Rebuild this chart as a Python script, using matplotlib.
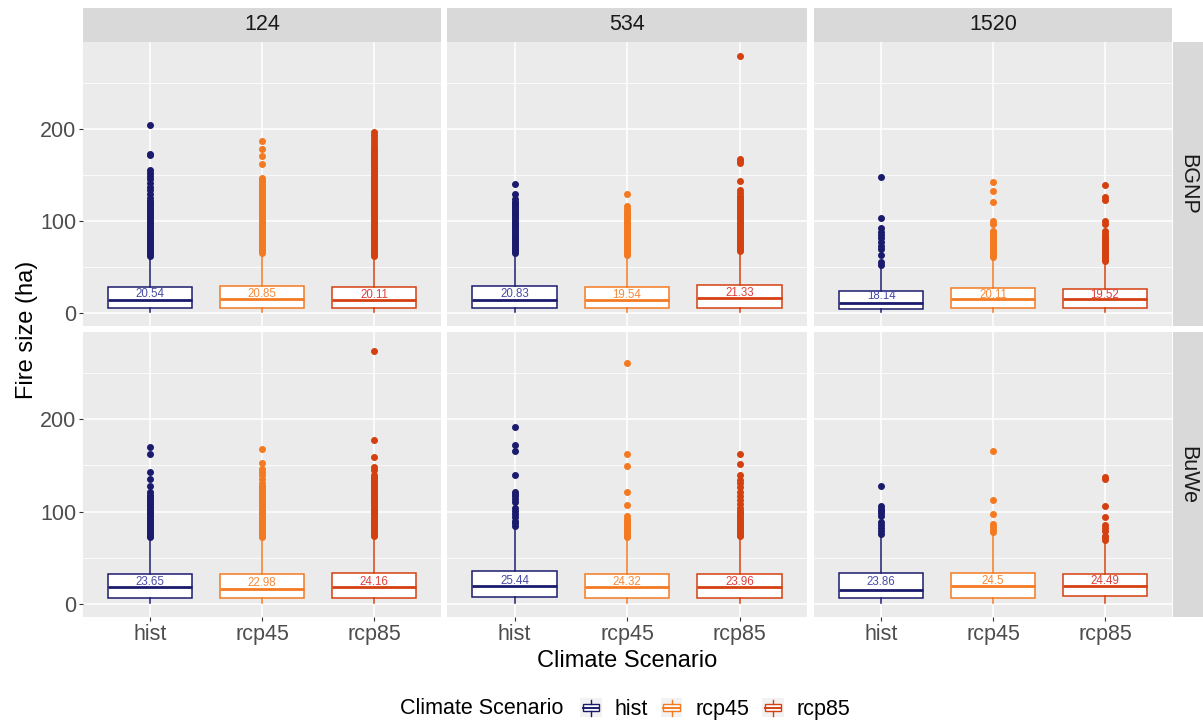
import matplotlib
matplotlib.use('Agg')
import matplotlib.pyplot as plt
from matplotlib.patches import Rectangle
from matplotlib.lines import Line2D
from matplotlib.legend_handler import HandlerBase

plt.rcParams['font.family'] = ['Liberation Sans', 'DejaVu Sans']

sites = ['BGNP', 'BuWe']
sizes = ['124', '534', '1520']
scenarios = ['hist', 'rcp45', 'rcp85']
colors = ['#1B1B6E', '#F47A22', '#D44010']
label_colors = ['#4A4AA8', '#F58A3A', '#E0403A']

# box stats per [site][size][scenario]
q1 = [[[5, 5, 5], [5, 5, 5], [4, 5, 5]],
      [[6.5, 6.5, 6.5], [8, 7, 7], [6.5, 6.5, 9]]]
med = [[[14, 15, 14], [14, 14, 16], [11, 15, 15]],
       [[18, 16.5, 18], [19, 18, 18], [15.5, 19, 19]]]
q3 = [[[28, 29, 28], [29, 28, 31], [23.5, 27, 26]],
      [[33, 33, 34], [36, 33, 33], [34, 34, 33]]]
whislo = [[[1, 1, 1], [1, 1, 1], [1, 1, 1]],
          [[1, 1, 1], [1, 1, 1], [1, 1, 1]]]
whishi = [[[60, 63, 60], [63, 61, 65], [50, 59, 55]],
          [[70, 70, 71], [82, 70, 71], [75, 77, 67]]]
means = [[[20.54, 20.85, 20.11], [20.83, 19.54, 21.33], [18.14, 20.11, 19.52]],
         [[23.65, 22.98, 24.16], [25.44, 24.32, 23.96], [23.86, 24.5, 24.49]]]

outliers = [
    [  # BGNP
        [[62, 64, 66, 68, 70, 72, 74, 76, 78, 80, 82, 84, 86, 88, 90, 92, 94, 96, 98, 100, 102, 104, 106,
          108, 110, 112, 114, 116, 118, 120, 122, 125, 129, 133, 137, 141, 145, 149, 152, 155, 171, 173, 204],
         [65, 67, 69, 71, 73, 75, 77, 79, 81, 83, 85, 87, 89, 91, 93, 95, 97, 99, 101, 103, 105, 107, 109,
          111, 113, 115, 117, 119, 121, 123, 125, 127, 129, 131, 133, 135, 137, 139, 141, 143, 145, 147,
          162, 170, 178, 187],
         [62, 64, 66, 68, 70, 72, 74, 76, 78, 80, 82, 84, 86, 88, 90, 92, 94, 96, 98, 100, 102, 104, 106,
          108, 110, 112, 114, 116, 118, 120, 122, 124, 126, 128, 130, 132, 134, 136, 138, 140, 142, 144,
          146, 148, 150, 152, 154, 156, 158, 160, 162, 164, 166, 168, 170, 172, 174, 176, 178, 180, 183,
          187, 190, 193, 196]],
        [[65, 67, 69, 71, 73, 75, 77, 79, 81, 83, 85, 87, 89, 91, 93, 95, 97, 99, 101, 103, 105, 107, 109,
          111, 113, 115, 117, 119, 121, 124, 129, 140],
         [63, 65, 67, 69, 71, 73, 75, 77, 79, 81, 83, 85, 87, 89, 91, 93, 95, 97, 99, 101, 103, 105, 107,
          109, 111, 113, 116, 129],
         [67, 69, 71, 73, 75, 77, 79, 81, 83, 85, 87, 89, 91, 93, 95, 97, 99, 101, 103, 105, 107, 109, 111,
          113, 115, 117, 119, 121, 123, 125, 127, 130, 134, 143, 163, 165, 167, 279]],
        [[52, 55, 63, 70, 73, 77, 81, 85, 88, 92, 103, 148],
         [61, 63, 65, 67, 69, 71, 73, 75, 77, 79, 81, 83, 85, 87, 89, 97, 100, 120, 132, 142],
         [57, 59, 61, 63, 65, 67, 69, 71, 73, 75, 77, 79, 81, 83, 86, 89, 97, 100, 123, 126, 139]],
    ],
    [  # BuWe
        [[72, 74, 76, 78, 80, 82, 84, 86, 88, 90, 92, 94, 96, 98, 100, 102, 104, 106, 108, 110, 112, 114,
          116, 118, 121, 128, 135, 143, 162, 170],
         [72, 74, 76, 78, 80, 82, 84, 86, 88, 90, 92, 94, 96, 98, 100, 102, 104, 106, 108, 110, 112, 114,
          116, 118, 120, 122, 124, 126, 128, 131, 135, 139, 143, 146, 152, 168],
         [73, 75, 77, 79, 81, 83, 85, 87, 89, 91, 93, 95, 97, 99, 101, 103, 105, 107, 109, 111, 113, 115,
          117, 119, 121, 123, 125, 127, 129, 131, 133, 135, 137, 139, 145, 148, 159, 177, 273]],
        [[84, 88, 90, 94, 97, 101, 104, 110, 114, 117, 119, 121, 140, 165, 172, 191],
         [72, 74, 76, 78, 80, 82, 84, 86, 88, 90, 92, 95, 107, 121, 149, 162, 260],
         [73, 75, 77, 79, 81, 83, 85, 87, 89, 91, 93, 95, 97, 99, 101, 104, 108, 112, 117, 121, 126, 131,
          134, 140, 151, 162]],
        [[76, 79, 82, 85, 89, 95, 98, 101, 103, 106, 128],
         [78, 80, 83, 86, 97, 112, 165],
         [69, 72, 74, 79, 82, 85, 94, 106, 135, 137]],
    ],
]

W, H = 1203, 724
fig = plt.figure(figsize=(W / 100, H / 100), dpi=100)

col_x = [(83, 441), (447, 807), (814, 1172)]
row_y = [(42, 326), (332, 617)]


def fx(px):
    return px / W


def fy(py):
    return 1 - py / H


for r in range(2):
    for c in range(3):
        x0, x1 = col_x[c]
        y0, y1 = row_y[r]
        ax = fig.add_axes([fx(x0), fy(y1), fx(x1 - x0), (y1 - y0) / H])
        ax.set_facecolor('#EBEBEB')
        for sp in ax.spines.values():
            sp.set_visible(False)
        ax.set_axisbelow(True)

        for k in range(3):
            st = dict(med=med[r][c][k], q1=q1[r][c][k], q3=q3[r][c][k],
                      whislo=whislo[r][c][k], whishi=whishi[r][c][k],
                      fliers=outliers[r][c][k])
            col = colors[k]
            ax.bxp([st], positions=[k + 1], widths=0.75, patch_artist=True, showcaps=False,
                   boxprops=dict(facecolor='white', edgecolor=col, linewidth=1.1),
                   medianprops=dict(color=col, linewidth=2.0),
                   whiskerprops=dict(color=col, linewidth=1.1),
                   flierprops=dict(marker='o', markerfacecolor=col, markeredgecolor=col,
                                   markersize=4.0, linestyle='none'))
            ax.text(k + 1, means[r][c][k], str(means[r][c][k]), color=label_colors[k],
                    fontsize=8.3, ha='center', va='center')

        ax.set_xlim(0.4, 3.6)
        ax.set_ylim(-14, 294)
        ax.set_xticks([1, 2, 3])
        ax.set_yticks([0, 100, 200])
        ax.set_yticks([50, 150, 250], minor=True)
        ax.grid(True, which='major', color='white', linewidth=1.1)
        ax.grid(True, which='minor', axis='y', color='white', linewidth=0.55)
        ax.tick_params(which='minor', length=0)
        ax.tick_params(which='major', length=3, color='#333333', labelcolor='#4D4D4D',
                       labelsize=15.5, pad=2)

        if c == 0:
            ax.set_yticklabels(['0', '100', '200'])
        else:
            ax.tick_params(axis='y', length=0, labelleft=False)
        if r == 1:
            ax.set_xticklabels(scenarios)
        else:
            ax.tick_params(axis='x', length=0, labelbottom=False)

        # top strips
        if r == 0:
            sax = fig.add_axes([fx(x0), fy(42), fx(x1 - x0), 34 / H])
            sax.set_facecolor('#D9D9D9')
            sax.set_xticks([])
            sax.set_yticks([])
            for sp in sax.spines.values():
                sp.set_visible(False)
            sax.text(0.5, 0.5, sizes[c], ha='center', va='center', fontsize=15.5, color='#1A1A1A')
        # right strips
        if c == 2:
            sax = fig.add_axes([fx(1173), fy(y1), fx(30), (y1 - y0) / H])
            sax.set_facecolor('#D9D9D9')
            sax.set_xticks([])
            sax.set_yticks([])
            for sp in sax.spines.values():
                sp.set_visible(False)
            sax.text(0.5, 0.5, sites[r], ha='center', va='center', fontsize=15.5,
                     color='#1A1A1A', rotation=-90)

fig.text(fx(627), fy(661), 'Climate Scenario', ha='center', va='center', fontsize=17)
fig.text(fx(27), fy(330), 'Fire size (ha)', ha='center', va='center', fontsize=17, rotation=90)


class BoxKey(HandlerBase):
    def create_artists(self, legend, orig_handle, xdescent, ydescent, width, height, fontsize, trans):
        col = orig_handle.get_color()
        x0, y0 = -xdescent, -ydescent
        arts = [Rectangle((x0, y0), width, height, facecolor='#F2F2F2', edgecolor='none', transform=trans)]
        bx0, bx1 = x0 + width * 0.12, x0 + width * 0.88
        by0, by1 = y0 + height * 0.3, y0 + height * 0.7
        xm = x0 + width / 2
        arts.append(Rectangle((bx0, by0), bx1 - bx0, by1 - by0, facecolor='white', edgecolor=col,
                              linewidth=1.0, transform=trans))
        arts.append(Line2D([bx0, bx1], [y0 + height * 0.5] * 2, color=col, linewidth=1.4, transform=trans))
        arts.append(Line2D([xm, xm], [by1, y0 + height * 0.92], color=col, linewidth=1.0, transform=trans))
        arts.append(Line2D([xm, xm], [y0 + height * 0.08, by0], color=col, linewidth=1.0, transform=trans))
        return arts


handles = [Line2D([], [], color=c) for c in colors]
fig.text(fx(400), fy(709), 'Climate Scenario', ha='left', va='center', fontsize=15.5)
fig.legend(handles, scenarios, loc='center left', bbox_to_anchor=(fx(580), fy(709)), ncol=3,
           frameon=False, fontsize=15.5, handler_map={Line2D: BoxKey()}, handlelength=1.0,
           handleheight=1.0, handletextpad=0.6, columnspacing=0.6, borderpad=0, borderaxespad=0)

fig.savefig('out.png', dpi=100)
